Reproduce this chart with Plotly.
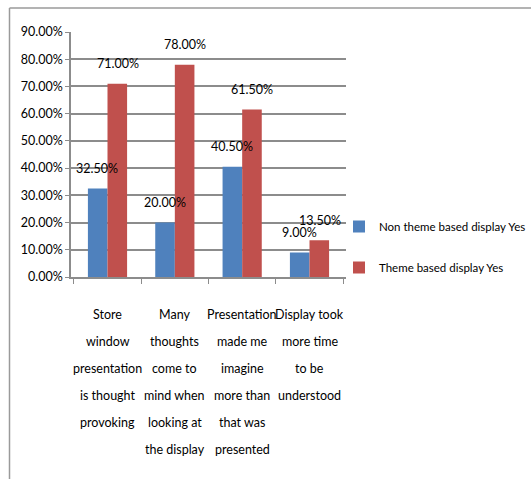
import plotly.graph_objects as go

# Survey categories (each line of the wrapped label kept separately)
category_lines = [
    ["Store", "window", "presentation", "is thought", "provoking"],
    ["Many", "thoughts", "come to", "mind when", "looking at", "the display"],
    ["Presentation", "made me", "imagine", "more than", "that was", "presented"],
    ["Display took", "more time", "to be", "understood"],
]
categories = [" ".join(lines) for lines in category_lines]

# Share of respondents answering "Yes"
non_theme_yes = [0.325, 0.20, 0.405, 0.09]
theme_yes = [0.71, 0.78, 0.615, 0.135]

series_names = ["Non theme based display Yes", "Theme based display Yes"]
series_colors = ["#4F81BD", "#C0504D"]

FONT = "Lato, Liberation Sans, sans-serif"
FS = 12.5

W, H = 531, 479
L, R, T, B = 71, 185, 32, 202
PW, PH = W - L - R, H - T - B

fig = go.Figure()
for name, vals, col in zip(series_names, [non_theme_yes, theme_yes], series_colors):
    fig.add_trace(go.Bar(
        x=categories, y=vals, name=name, marker_color=col,
        marker_line_width=0, legendgroup=name,
    ))

annotations = []
# Value labels above each bar
bar_px = PW / len(categories) * (1 - 0.418) / 2
for k, vals in enumerate([non_theme_yes, theme_yes]):
    shift = (k - 0.5) * bar_px
    for cat, v in zip(categories, vals):
        annotations.append(dict(
            x=cat, y=v, xref="x", yref="y", text=f"{v * 100:.2f}%",
            showarrow=False, xshift=shift, yshift=20, yanchor="middle",
            font=dict(family=FONT, size=FS, color="#000000"),
        ))

# Wrapped category labels under the axis
for cat, lines in zip(categories, category_lines):
    for i, line in enumerate(lines):
        annotations.append(dict(
            x=cat, y=0, xref="x", yref="y", text=line, showarrow=False,
            yshift=-(37 + i * 27), yanchor="middle",
            font=dict(family=FONT, size=FS, color="#000000"),
        ))

# Chart-area border (top and left edges)
def px_x(px):
    return (px - L) / PW

def px_y(py):
    return (H - B - py) / PH

border = "#9a9a9a"
shapes = [
    dict(type="line", xref="paper", yref="paper", x0=px_x(9.5), x1=px_x(W + 2),
         y0=px_y(8), y1=px_y(8), line=dict(color=border, width=1.5)),
    dict(type="line", xref="paper", yref="paper", x0=px_x(9.5), x1=px_x(9.5),
         y0=px_y(8), y1=px_y(H + 2), line=dict(color=border, width=1.5)),
]

fig.update_layout(
    width=W, height=H,
    margin=dict(l=L, r=R, t=T, b=B, autoexpand=False),
    paper_bgcolor="white", plot_bgcolor="white",
    barmode="group", bargap=0.418, bargroupgap=0,
    font=dict(family=FONT, size=FS, color="#000000"),
    showlegend=True,
    legend=dict(
        x=px_x(339), xanchor="left", y=px_y(212), yanchor="top",
        font=dict(family=FONT, size=11.5, color="#000000"),
        tracegroupgap=22, bgcolor="rgba(0,0,0,0)",
    ),
    annotations=annotations,
    shapes=shapes,
)
fig.update_xaxes(
    showticklabels=False, showline=True, linecolor="#8c8c8c", linewidth=1.5,
    ticks="outside", tickson="boundaries", ticklen=5, tickcolor="#8c8c8c",
    showgrid=False, automargin=False,
)
fig.update_yaxes(
    range=[0, 0.9], dtick=0.1, tickformat=".2%",
    showline=True, linecolor="#8c8c8c", linewidth=1.5,
    ticks="outside", ticklen=4, tickcolor="#8c8c8c",
    showgrid=True, gridcolor="#8c8c8c", gridwidth=1.5,
    zeroline=False, automargin=False,
    tickfont=dict(family=FONT, size=FS, color="#000000"),
)

fig.write_html("out.html")
